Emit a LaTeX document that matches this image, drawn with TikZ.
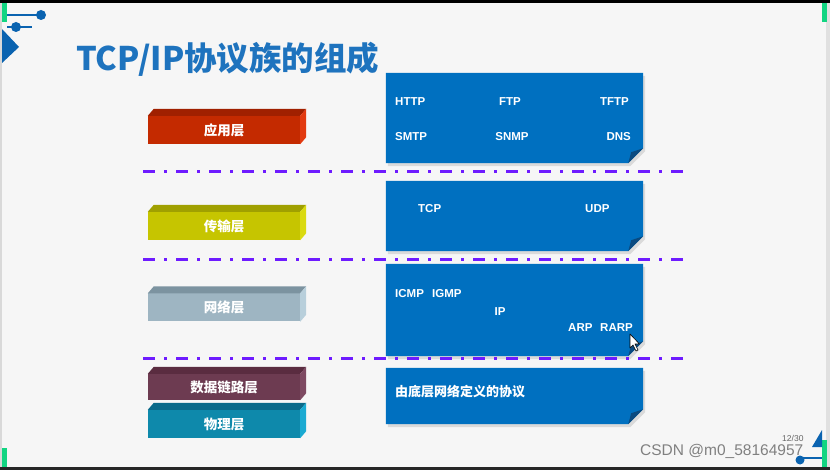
\documentclass[tikz,border=0pt]{standalone}
\usepackage{fontspec}
\setmainfont{Liberation Sans}
\newfontfamily\cjk{Noto Sans CJK SC}
\usetikzlibrary{calc}
\definecolor{bg}{HTML}{F6F6F6}
\definecolor{titleblue}{HTML}{1E73BE}
\definecolor{panelblue}{HTML}{0070C0}
\definecolor{folddark}{HTML}{0A4A80}
\definecolor{dashpurple}{HTML}{6E1BFF}
\definecolor{appF}{HTML}{C42A00}\definecolor{appT}{HTML}{A02000}\definecolor{appS}{HTML}{E23A10}
\definecolor{traF}{HTML}{C6C500}\definecolor{traT}{HTML}{A0A000}\definecolor{traS}{HTML}{DADA10}
\definecolor{netF}{HTML}{9EB5C2}\definecolor{netT}{HTML}{7C93A0}\definecolor{netS}{HTML}{B8CFDB}
\definecolor{dlF}{HTML}{6D3B51}\definecolor{dlT}{HTML}{5A2C40}\definecolor{dlS}{HTML}{7E4A62}
\definecolor{phyF}{HTML}{0E89AB}\definecolor{phyT}{HTML}{0A6A8A}\definecolor{phyS}{HTML}{1AAAD2}
\definecolor{accent}{HTML}{0A63B0}
\definecolor{greenbar}{HTML}{12D582}
\tikzset{
  layerbox/.style={minimum width=152pt, minimum height=28pt, inner sep=0pt,
    text=white, font=\cjk\bfseries\fontsize{13.5}{14}\selectfont},
  panelbox/.style={minimum width=257pt, inner sep=0pt, draw=none},
  ptext/.style={text=white, inner sep=0pt, font=\bfseries\fontsize{11.5}{12}\selectfont},
  ctext/.style={text=white, inner sep=0pt, font=\cjk\bfseries\fontsize{13}{14}\selectfont},
  divider/.style={dashpurple, line width=3pt, dash pattern=on 12pt off 9pt on 3pt off 9pt},
}
\newcommand{\layerfaces}[3]{%
  \fill[#2] (#1.north west) -- ++(6,-7) -- ($(#1.north east)+(6,-7)$) -- (#1.north east) -- cycle;
  \fill[#3] (#1.north east) -- ++(6,-7) -- ($(#1.south east)+(6,-7)$) -- (#1.south east) -- cycle;}
\newcommand{\panelshape}[1]{%
  \fill[black!25, opacity=0.5] ($(#1.north west)+(2,3)$) -- ($(#1.north east)+(2,3)$) -- ($(#1.south east)+(2,-12)$) -- ($(#1.south east)+(-13,3)$) -- ($(#1.south west)+(2,3)$) -- cycle;
  \fill[panelblue] (#1.north west) -- (#1.north east) -- ($(#1.south east)+(0,-15)$) -- ($(#1.south east)+(-15,0)$) -- (#1.south west) -- cycle;
  \fill[folddark] ($(#1.south east)+(0,-15)$) -- ($(#1.south east)+(-15,0)$) -- ($(#1.south east)+(-12,-11)$) -- cycle;}
\begin{document}
\begin{tikzpicture}[x=1pt,y=-1pt]
\useasboundingbox (0,0) rectangle (830,470);
\fill[bg] (0,0) rectangle (830,470);
% screen frame
\fill[black] (0,0) rectangle (830,3);
\fill[black!85] (0,467) rectangle (830,470);
\fill[black!15] (0,3) rectangle (2,467);
\fill[black!12] (826,3) rectangle (830,467);
\fill[greenbar] (2,3) rectangle (7,22);
\fill[greenbar] (822,3) rectangle (827,22);
\fill[greenbar] (2,448) rectangle (7,467);
\fill[greenbar] (822,440) rectangle (827,467);
% top-left decoration
\draw[accent, line width=1.3pt] (7,15) -- (41,15);
\fill[accent] (41,15) circle (5);
\draw[accent, line width=1.3pt] (7,27) -- (32,27);
\fill[accent] (16,27) circle (5);
\fill[accent] (2,29) -- (19,47) -- (2,63) -- cycle;
% title
\node[anchor=west, inner sep=0pt, text=titleblue, font=\cjk\bfseries\fontsize{32.5}{33}\selectfont] (title) at (76,59) {TCP/IP协议族的组成};
% layer boxes
\node[layerbox, fill=appF] (app) at (224,130) {应用层};
\layerfaces{app}{appT}{appS}
\node[layerbox, fill=traF] (tra) at (224,226) {传输层};
\layerfaces{tra}{traT}{traS}
\node[layerbox, fill=netF] (net) at (224,307.5) {网络层};
\layerfaces{net}{netT}{netS}
\node[layerbox, fill=dlF, minimum height=26pt] (dl) at (224,387) {数据链路层};
\layerfaces{dl}{dlT}{dlS}
\node[layerbox, fill=phyF] (phy) at (224,424) {物理层};
\layerfaces{phy}{phyT}{phyS}
% panels
\node[panelbox, minimum height=90pt] (p1) at (514.5,118) {};
\panelshape{p1}
\node[panelbox, minimum height=70pt] (p2) at (514.5,216) {};
\panelshape{p2}
\node[panelbox, minimum height=92pt] (p3) at (514.5,310) {};
\panelshape{p3}
\node[panelbox, minimum height=56pt] (p4) at (514.5,396) {};
\panelshape{p4}
% panel texts
\node[ptext, anchor=west] (http) at (395,102) {HTTP};
\node[ptext] (ftp) at (510,102) {FTP};
\node[ptext, anchor=east] (tftp) at (629,102) {TFTP};
\node[ptext, anchor=west] (smtp) at (395,137) {SMTP};
\node[ptext] (snmp) at (512,137) {SNMP};
\node[ptext, anchor=east] (dns) at (631,137) {DNS};
\node[ptext, anchor=west] (tcp) at (418,209) {TCP};
\node[ptext, anchor=west] (udp) at (585,209) {UDP};
\node[ptext, anchor=west] (icmp) at (395,294) {ICMP};
\node[ptext, anchor=west] (igmp) at (432,294) {IGMP};
\node[ptext] (ip) at (500,312) {IP};
\node[ptext, anchor=west] (arp) at (568,328) {ARP};
\node[ptext, anchor=west] (rarp) at (600,328) {RARP};
\node[ctext, anchor=west] (under) at (395,392) {由底层网络定义的协议};
% dividers
\coordinate (d1a) at (143,172); \coordinate (d1b) at (686,172);
\coordinate (d2a) at (143,260); \coordinate (d2b) at (686,260);
\coordinate (d3a) at (143,358); \coordinate (d3b) at (686,358);
\draw[divider] (d1a) -- (d1b);
\draw[divider] (d2a) -- (d2b);
\draw[divider] (d3a) -- (d3b);
% mouse cursor
\draw[black, fill=white, line width=0.6pt, line join=round] (630,334) -- ++(0,14) -- ++(3,-3) -- ++(3,6) -- ++(2,-1) -- ++(-3,-6) -- ++(4.5,0) -- cycle;
% bottom-right decoration
\fill[accent] (812,447) -- (822,430) -- (822,447) -- cycle;
\draw[accent, line width=1.2pt] (800,458) -- (822,458);
\fill[accent] (800,460) circle (4.5);
\node[anchor=west, inner sep=0pt, text=black!60, font=\fontsize{8.5}{9}\selectfont] (page) at (782,438) {12/30};
\node[anchor=west, inner sep=0pt, text=black!50, font=\fontsize{15.5}{16}\selectfont] (wm) at (640,451) {CSDN @m0\_58164957};
\end{tikzpicture}
\end{document}
